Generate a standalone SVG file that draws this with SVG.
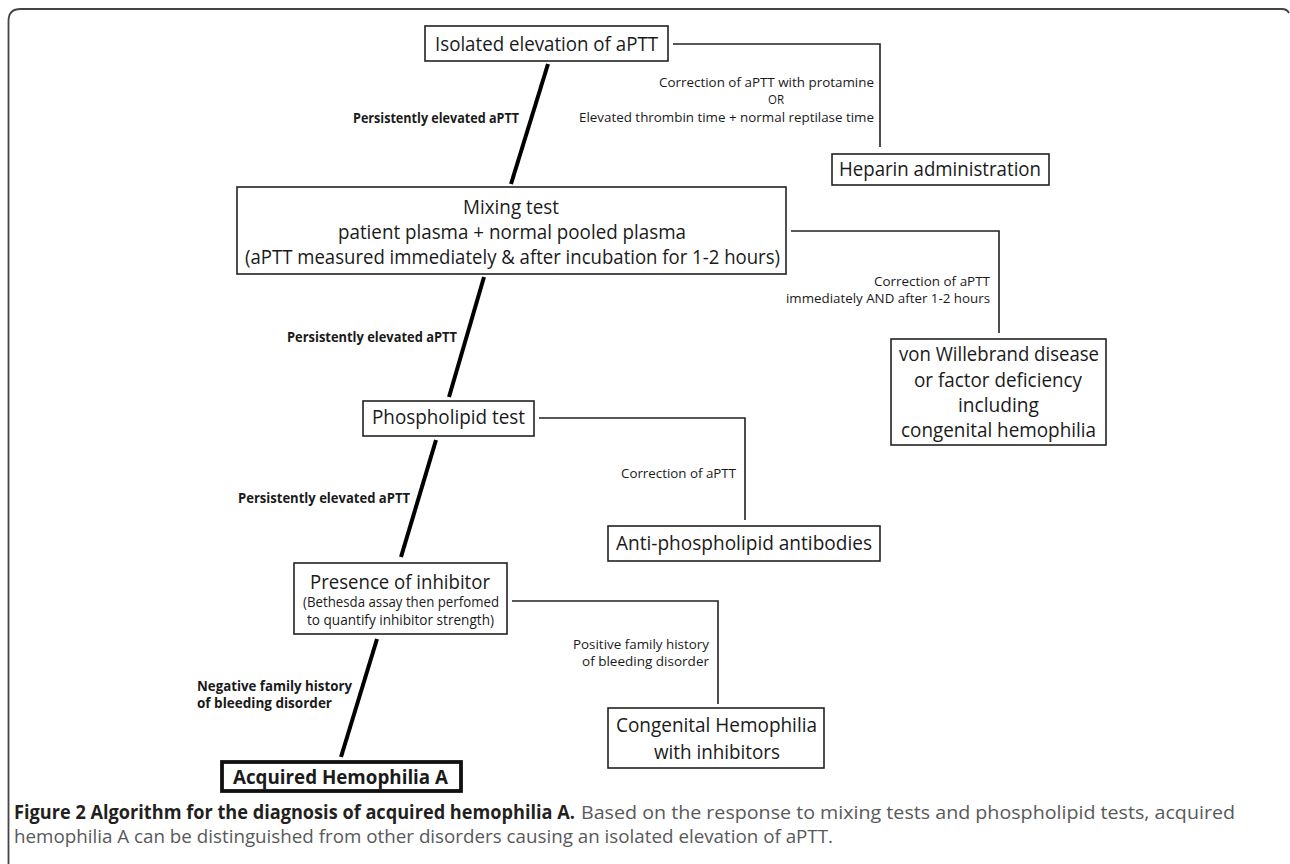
<svg xmlns="http://www.w3.org/2000/svg" width="1290" height="864" viewBox="0 0 1290 864">
<style>
.bx{fill:#fff;stroke:#222;stroke-width:1.6}
.bxt{fill:#fff;stroke:#111;stroke-width:3.8}
.t{font-family:"Open Sans","Noto Sans",sans-serif;fill:#1a1a1a}
.big{font-size:20px}
.lg{font-size:20.5px}
.mid{font-size:14px}
.sm{font-size:13px}
.b{font-weight:bold;font-size:13.5px}
.spine{stroke:#000;stroke-width:4;fill:none}
.thin{stroke:#222;stroke-width:1.6;fill:none}
.cap{font-family:"Open Sans","Noto Sans",sans-serif;font-size:19px}
</style>
<rect width="1290" height="864" fill="#fff"/>
<path d="M8.5,864 V21 Q8.5,9 20.5,9 H1282 Q1287,9 1289,13" fill="none" stroke="#444" stroke-width="1.8"/>
<g id="connectors">
<line class="spine" x1="548" y1="64" x2="511" y2="184"/>
<line class="spine" x1="484" y1="277" x2="449" y2="397"/>
<line class="spine" x1="436" y1="440" x2="401" y2="557"/>
<line class="spine" x1="377" y1="639" x2="341" y2="757"/>
<path class="thin" d="M673,44 H880 V147"/>
<path class="thin" d="M791,231 H999 V333"/>
<path class="thin" d="M539,418 H745 V520"/>
<path class="thin" d="M512,601 H718 V704"/>
<text class="t b" x="353" y="123" textLength="166" lengthAdjust="spacingAndGlyphs">Persistently elevated aPTT</text>
<text class="t b" x="287" y="342" textLength="170" lengthAdjust="spacingAndGlyphs">Persistently elevated aPTT</text>
<text class="t b" x="238" y="503" textLength="172" lengthAdjust="spacingAndGlyphs">Persistently elevated aPTT</text>
<text class="t b" x="197" y="691" textLength="155" lengthAdjust="spacingAndGlyphs">Negative family history</text>
<text class="t b" x="197" y="708" textLength="135" lengthAdjust="spacingAndGlyphs">of bleeding disorder</text>
<text class="t sm" x="659" y="86.5" textLength="215" lengthAdjust="spacingAndGlyphs">Correction of aPTT with protamine</text>
<text class="t sm" x="768" y="103.5" textLength="16" lengthAdjust="spacingAndGlyphs">OR</text>
<text class="t sm" x="579" y="121.5" textLength="295" lengthAdjust="spacingAndGlyphs">Elevated thrombin time + normal reptilase time</text>
<text class="t sm" x="874" y="285.5" textLength="116" lengthAdjust="spacingAndGlyphs">Correction of aPTT</text>
<text class="t sm" x="786" y="302.5" textLength="204" lengthAdjust="spacingAndGlyphs">immediately AND after 1-2 hours</text>
<text class="t sm" x="621" y="477.5" textLength="115" lengthAdjust="spacingAndGlyphs">Correction of aPTT</text>
<text class="t sm" x="573" y="648.5" textLength="136" lengthAdjust="spacingAndGlyphs">Positive family history</text>
<text class="t sm" x="582" y="665.5" textLength="127" lengthAdjust="spacingAndGlyphs">of bleeding disorder</text>
</g>
<g id="n-isolated">
<rect class="bx" x="425" y="26" width="243" height="35"/>
<text class="t lg" x="435" y="50.5" textLength="223" lengthAdjust="spacingAndGlyphs">Isolated elevation of aPTT</text>
</g>
<g id="n-heparin">
<rect class="bx" x="832" y="154" width="217" height="31"/>
<text class="t big" x="839" y="176" textLength="202" lengthAdjust="spacingAndGlyphs">Heparin administration</text>
</g>
<g id="n-mixing">
<rect class="bx" x="237" y="187" width="549" height="87"/>
<text class="t lg" x="463" y="213.5" textLength="96" lengthAdjust="spacingAndGlyphs">Mixing test</text>
<text class="t lg" x="338" y="239" textLength="348" lengthAdjust="spacingAndGlyphs">patient plasma + normal pooled plasma</text>
<text class="t lg" x="245" y="264" textLength="535" lengthAdjust="spacingAndGlyphs">(aPTT measured immediately &amp; after incubation for 1-2 hours)</text>
</g>
<g id="n-vwd">
<rect class="bx" x="891" y="339" width="215" height="106"/>
<text class="t big" x="899" y="361" textLength="200" lengthAdjust="spacingAndGlyphs">von Willebrand disease</text>
<text class="t big" x="914" y="387" textLength="168" lengthAdjust="spacingAndGlyphs">or factor deficiency</text>
<text class="t big" x="958" y="412" textLength="81" lengthAdjust="spacingAndGlyphs">including</text>
<text class="t big" x="901" y="437" textLength="195" lengthAdjust="spacingAndGlyphs">congenital hemophilia</text>
</g>
<g id="n-phospholipid">
<rect class="bx" x="363" y="401" width="171" height="35"/>
<text class="t big" x="372" y="424" textLength="153" lengthAdjust="spacingAndGlyphs">Phospholipid test</text>
</g>
<g id="n-antiphospholipid">
<rect class="bx" x="608" y="526" width="272" height="35"/>
<text class="t big" x="616" y="550" textLength="256" lengthAdjust="spacingAndGlyphs">Anti-phospholipid antibodies</text>
</g>
<g id="n-presence">
<rect class="bx" x="294" y="563" width="213" height="71"/>
<text class="t big" x="310" y="589" textLength="180" lengthAdjust="spacingAndGlyphs">Presence of inhibitor</text>
<text class="t mid" x="303" y="607" textLength="196" lengthAdjust="spacingAndGlyphs">(Bethesda assay then perfomed</text>
<text class="t mid" x="307" y="625" textLength="187" lengthAdjust="spacingAndGlyphs">to quantify inhibitor strength)</text>
</g>
<g id="n-congenital">
<rect class="bx" x="608" y="708" width="216" height="60"/>
<text class="t big" x="616" y="732" textLength="201" lengthAdjust="spacingAndGlyphs">Congenital Hemophilia</text>
<text class="t big" x="654" y="759" textLength="126" lengthAdjust="spacingAndGlyphs">with inhibitors</text>
</g>
<g id="n-acquired">
<rect class="bxt" x="222" y="762" width="239" height="29"/>
<text class="t" font-size="20" font-weight="bold" x="233" y="784" textLength="215" lengthAdjust="spacingAndGlyphs">Acquired Hemophilia A</text>
</g>
<g id="caption">
<text class="cap" x="14" y="819" font-weight="bold" fill="#231f20" textLength="561" lengthAdjust="spacingAndGlyphs">Figure 2 Algorithm for the diagnosis of acquired hemophilia A.</text>
<text class="cap" x="581" y="819" fill="#58595b" textLength="654" lengthAdjust="spacingAndGlyphs">Based on the response to mixing tests and phospholipid tests, acquired</text>
<text class="cap" x="14" y="843" fill="#58595b" textLength="819" lengthAdjust="spacingAndGlyphs">hemophilia A can be distinguished from other disorders causing an isolated elevation of aPTT.</text>
</g>
</svg>
